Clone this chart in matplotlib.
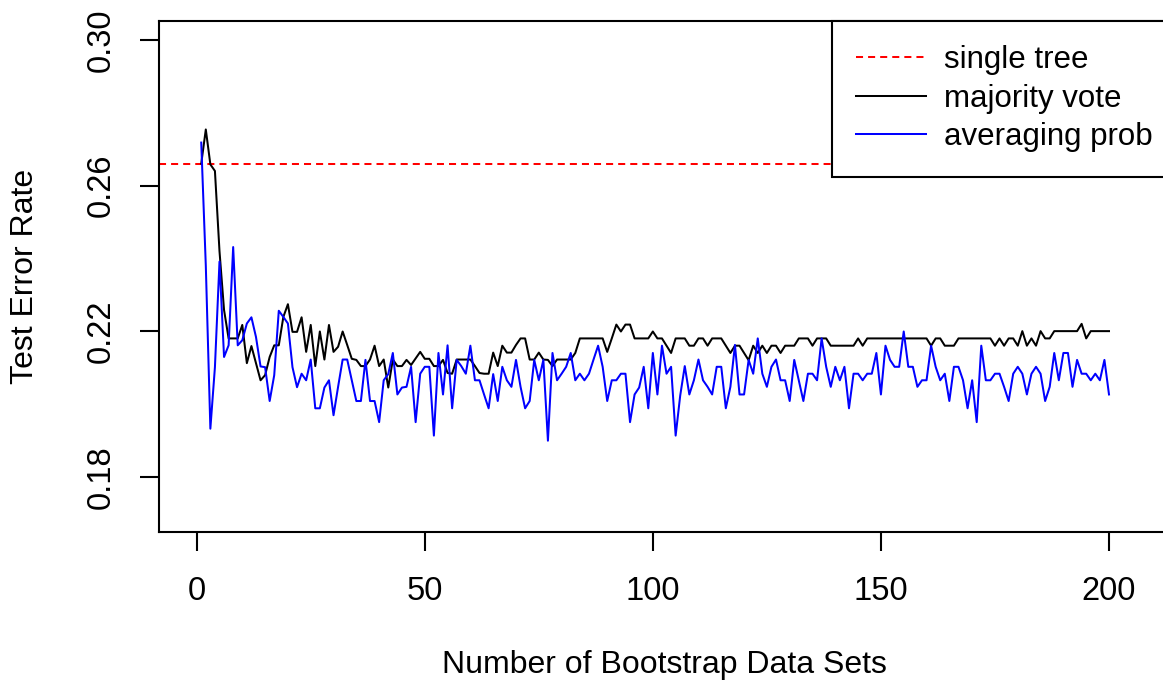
import numpy as np
import matplotlib
matplotlib.use("Agg")
import matplotlib.pyplot as plt

plt.rcParams['font.family'] = ['Liberation Sans', 'DejaVu Sans']

# test error of one tree (dashed reference line)
single_tree = 0.266

# majority vote error, bootstrap sets 1..200
majority_vote = [
    0.266, 0.2754, 0.2658, 0.264, 0.242, 0.2258, 0.218, 0.218, 0.218, 0.2217,
    0.2112, 0.2159, 0.2112, 0.2065, 0.2079, 0.2129, 0.2161, 0.2161, 0.2239, 0.2274,
    0.2198, 0.2198, 0.2238, 0.2143, 0.2217,
    0.2104, 0.2199, 0.2122, 0.2217, 0.2143, 0.2157, 0.2199, 0.2162, 0.2124, 0.2121,
    0.2104, 0.2104, 0.2122, 0.216, 0.2104, 0.2122, 0.2045, 0.2122, 0.2104, 0.2104,
    0.2121, 0.2107, 0.2125, 0.2143, 0.2124, 0.2124,
    0.2104, 0.2104, 0.2121, 0.2085, 0.2083, 0.2122, 0.2122, 0.2122, 0.2122, 0.2104,
    0.2085, 0.2083, 0.2083, 0.2141, 0.2104, 0.216, 0.2141, 0.2141, 0.2162, 0.218,
    0.218, 0.2122, 0.2122, 0.2141, 0.2122, 0.2121,
    0.2104, 0.2122, 0.2122, 0.2122, 0.2122, 0.214, 0.218, 0.218, 0.218, 0.218,
    0.218, 0.218, 0.2143, 0.218, 0.2218, 0.2199, 0.2218, 0.2218, 0.218, 0.218,
    0.218, 0.218, 0.2199, 0.218, 0.218, 0.216,
    0.214, 0.218, 0.218, 0.218, 0.216, 0.216, 0.218, 0.218, 0.216, 0.218,
    0.218, 0.218, 0.216, 0.214, 0.216, 0.216, 0.214, 0.212, 0.216, 0.214,
    0.216, 0.214, 0.216, 0.216, 0.214, 0.216, 0.216,
    0.216, 0.218, 0.218, 0.218, 0.216, 0.218, 0.218, 0.218, 0.216, 0.216,
    0.216, 0.216, 0.216, 0.216, 0.218, 0.216, 0.218, 0.218, 0.218, 0.218,
    0.218, 0.218, 0.218, 0.218, 0.218, 0.218,
    0.218, 0.218, 0.218, 0.218, 0.216, 0.218, 0.218, 0.216, 0.216, 0.216,
    0.218, 0.218, 0.218, 0.218, 0.218, 0.218, 0.218, 0.218, 0.216, 0.218,
    0.216, 0.218,
    0.218, 0.216, 0.22, 0.216, 0.218, 0.216, 0.22, 0.218, 0.218, 0.22,
    0.22, 0.22, 0.22, 0.22, 0.22, 0.222, 0.218, 0.22, 0.22, 0.22,
    0.22, 0.22,
]

# averaging class probabilities
averaging_prob = [
    0.2718, 0.238, 0.1932, 0.2101, 0.2391, 0.2129, 0.2161, 0.2431, 0.2161, 0.2175,
    0.2221, 0.2238, 0.2184, 0.2103, 0.2101, 0.2008, 0.2079, 0.2256, 0.2239, 0.2221,
    0.2101, 0.2046, 0.2083, 0.2065, 0.2122,
    0.1988, 0.1988, 0.2045, 0.2065, 0.1969, 0.2047, 0.2122, 0.2122, 0.2065, 0.2008,
    0.2008, 0.2121, 0.2008, 0.2008, 0.195, 0.2065, 0.2082, 0.214, 0.2026, 0.2045,
    0.2047, 0.2102, 0.195, 0.2083, 0.2102, 0.2102,
    0.1913, 0.214, 0.2026, 0.2161, 0.1988, 0.2121, 0.2104, 0.2083, 0.216, 0.2065,
    0.2065, 0.2026, 0.1988, 0.2082, 0.2008, 0.2102, 0.2065, 0.2047, 0.2121, 0.2047,
    0.1988, 0.2008, 0.2121, 0.2065, 0.2121, 0.1899,
    0.214, 0.2065, 0.2083, 0.2102, 0.214, 0.2065, 0.2083, 0.2065, 0.2083, 0.2122,
    0.216, 0.2102, 0.2008, 0.2065, 0.2065, 0.2083, 0.2083, 0.195, 0.2026, 0.2045,
    0.2102, 0.1988, 0.214, 0.2026, 0.216, 0.2083,
    0.2102, 0.1913, 0.2023, 0.2104, 0.2026, 0.2065, 0.2122, 0.2065, 0.2047, 0.2026,
    0.2102, 0.2102, 0.1988, 0.2047, 0.2162, 0.2026, 0.2026, 0.2121, 0.2083, 0.218,
    0.2083, 0.2047, 0.2102, 0.2122, 0.2065, 0.2065, 0.2008,
    0.2121, 0.2065, 0.2008, 0.2083, 0.2083, 0.2065, 0.218, 0.2102, 0.2047, 0.2102,
    0.2065, 0.2102, 0.1988, 0.2083, 0.2083, 0.2065, 0.2083, 0.2083, 0.214, 0.2026,
    0.216, 0.2121, 0.2102, 0.2102, 0.2199, 0.2102,
    0.2102, 0.2047, 0.2065, 0.2065, 0.216, 0.2102, 0.2065, 0.2083, 0.2008, 0.2102,
    0.2102, 0.2065, 0.1988, 0.2065, 0.195, 0.216, 0.2065, 0.2065, 0.2083, 0.2083,
    0.2047, 0.2008,
    0.2083, 0.2102, 0.2083, 0.2026, 0.2083, 0.2102, 0.2083, 0.2008, 0.2047, 0.214,
    0.2065, 0.214, 0.214, 0.2047, 0.2121, 0.2083, 0.2083, 0.2065, 0.2083, 0.2065,
    0.2121, 0.2026,
]

n_sets = np.arange(1, len(majority_vote) + 1)

fig = plt.figure(figsize=(11.63, 6.86), dpi=100)
# plot region runs off the right edge, as in the original
right_px = 1177
ax = fig.add_axes([159 / 1163, 1 - 531.7 / 686, (right_px - 159) / 1163, (531.7 - 21) / 686])

lw = 1.45
ax.axhline(single_tree, color='red', lw=lw, dashes=(3.5, 2.5), label='single tree')
ax.plot(n_sets, majority_vote, color='black', lw=lw, label='majority vote')
ax.plot(n_sets, averaging_prob, color='blue', lw=lw, label='averaging prob')

ax.set_xlim(-8.26, (right_px - 196.7) / 4.5615)
ax.set_ylim(0.1649, 0.3052)
ax.set_xticks([0, 50, 100, 150, 200])
ax.set_yticks([0.18, 0.22, 0.26, 0.30])
ax.set_yticklabels(['0.18', '0.22', '0.26', '0.30'], rotation=90, va='center')

for s in ax.spines.values():
    s.set_linewidth(1.5)
ax.tick_params(length=13.7, width=1.5, labelsize=23.5)
ax.tick_params(axis='x', pad=18)
ax.tick_params(axis='y', pad=17)

fig.text(664 / 1163, 1 - 665 / 686, 'Number of Bootstrap Data Sets',
         ha='center', va='center', fontsize=23)
fig.text(25 / 1163, 1 - 276 / 686, 'Test Error Rate', rotation=90,
         ha='center', va='center', fontsize=23)

leg = ax.legend(loc='upper right', fontsize=22.5, frameon=True, fancybox=False,
                borderaxespad=0, borderpad=0.78, handlelength=2.24,
                handletextpad=0.58, labelspacing=0.27)
leg.get_frame().set_edgecolor('black')
leg.get_frame().set_linewidth(1.5)
leg.get_frame().set_alpha(1)

fig.savefig('out.png', dpi=100)
